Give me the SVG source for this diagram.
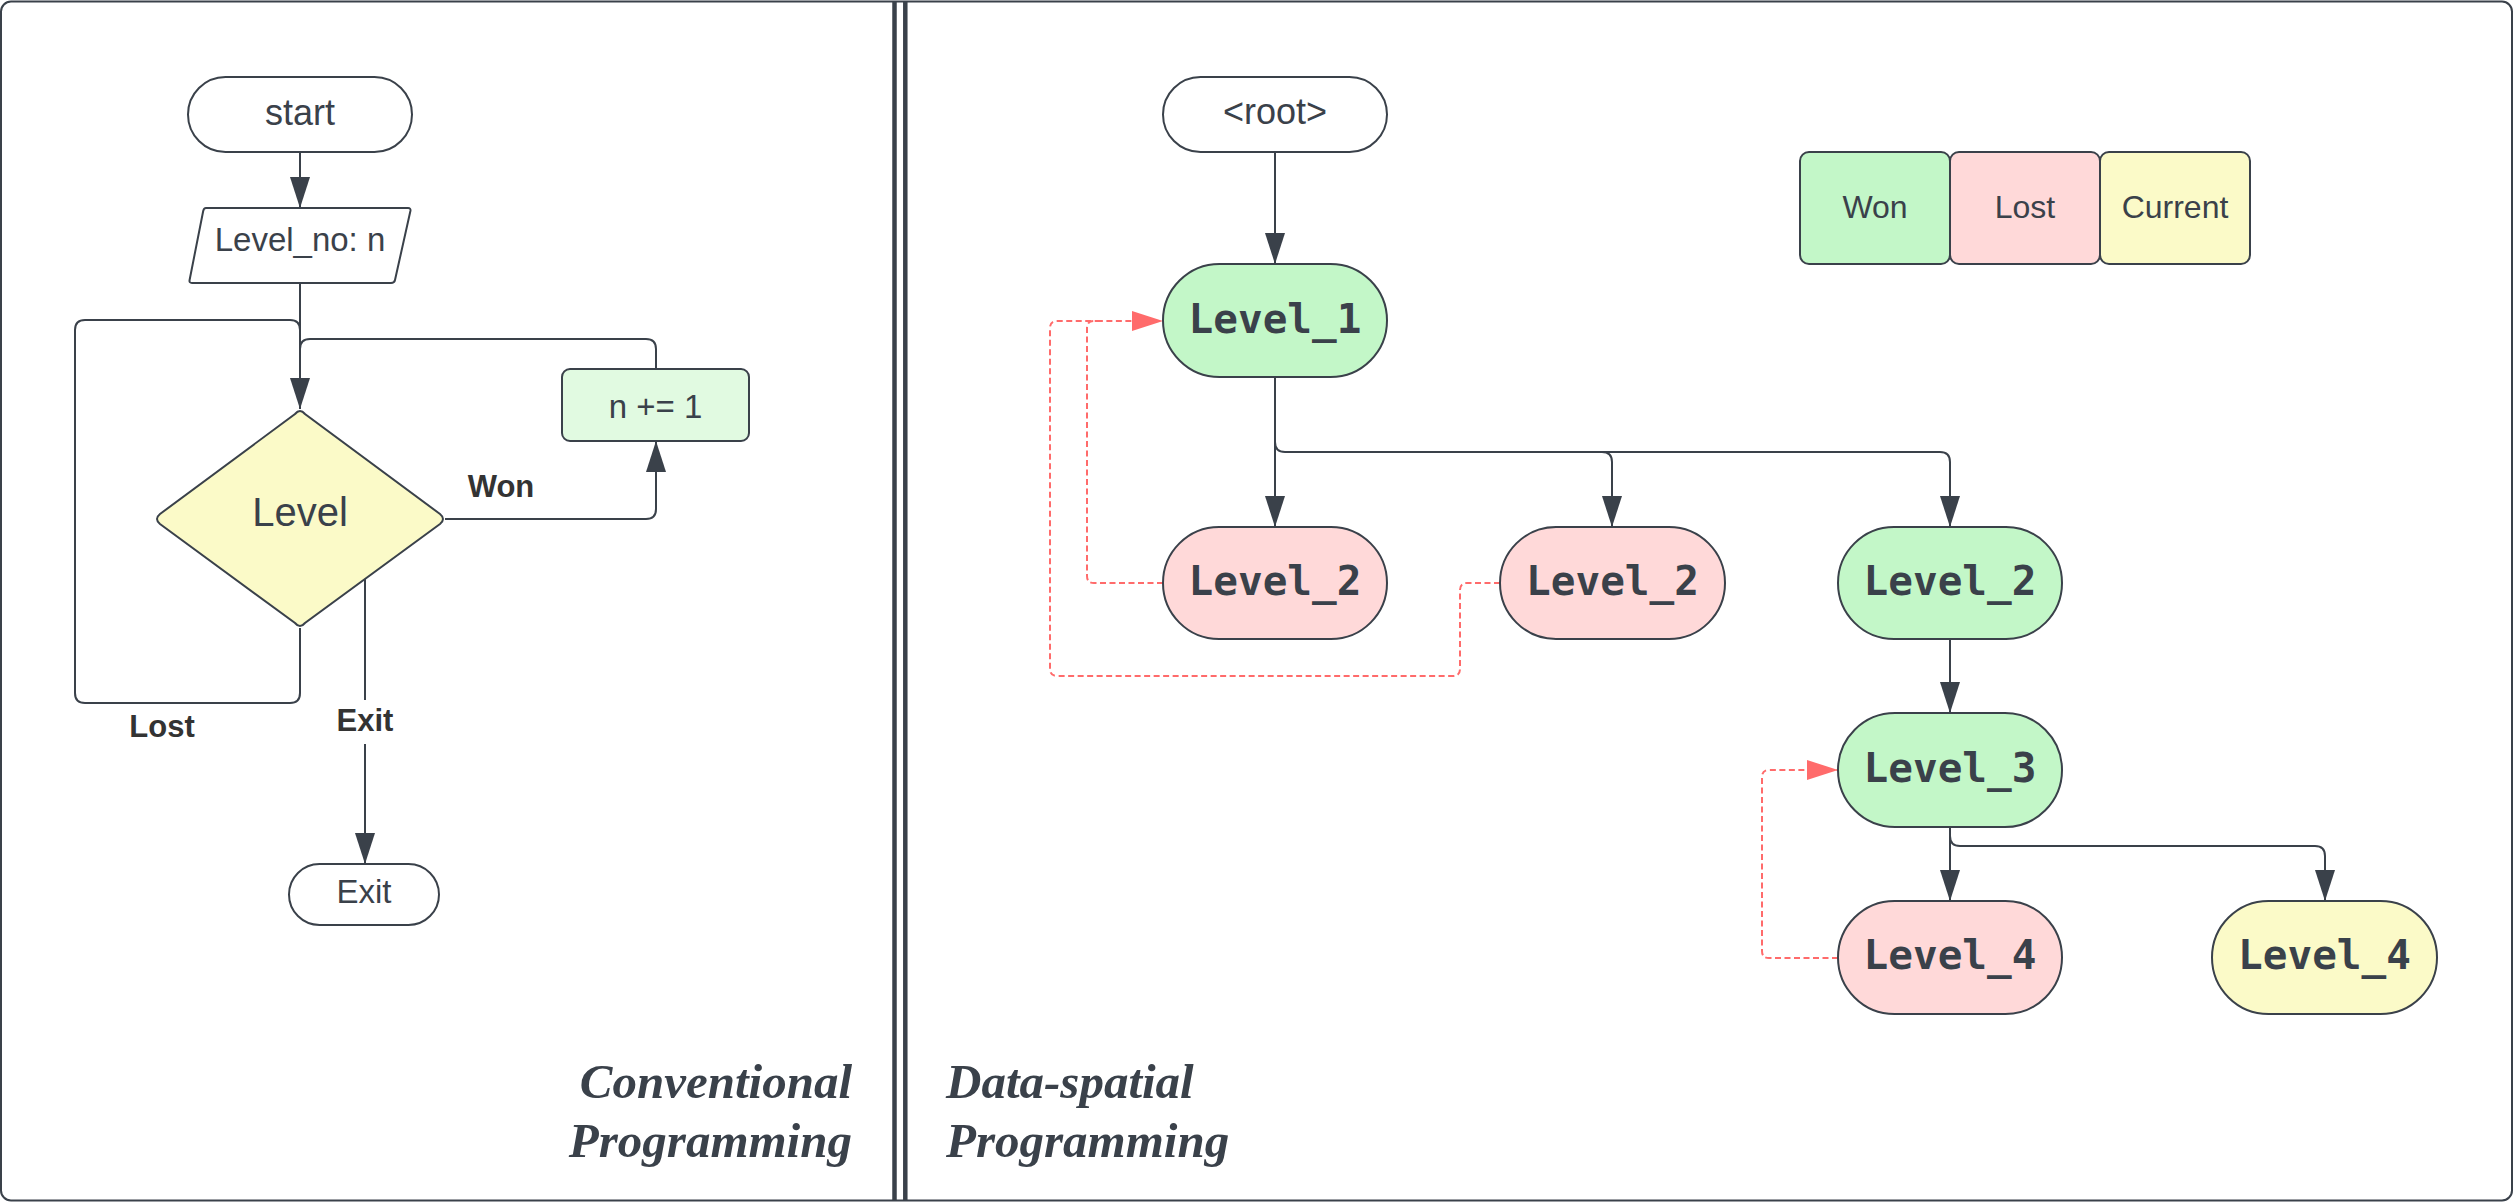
<svg xmlns="http://www.w3.org/2000/svg" width="2514" height="1202" viewBox="0 0 2514 1202">
<style>
.frame{fill:#ffffff;stroke:#3a414a;stroke-width:2}
.div{stroke:#3a414a;stroke-width:4.5}
.node{stroke:#3a414a;stroke-width:2}
.white{fill:#ffffff}
.green{fill:#c3f7c8}
.pink{fill:#ffd9d9}
.yellow{fill:#fbfac8}
.lgreen{fill:#e1fae1}
.t{font-family:"Liberation Sans",Arial,sans-serif;fill:#3a414a;text-anchor:middle}
.lbl{font-family:"Liberation Sans",Arial,sans-serif;font-weight:bold;fill:#333333;text-anchor:middle;font-size:31px}
.mono{font-family:"DejaVu Sans Mono","Liberation Mono",monospace;font-weight:bold;font-size:41px;fill:#3a414a;text-anchor:middle}
.title{font-family:"Liberation Serif","Times New Roman",serif;font-style:italic;font-weight:bold;font-size:49px;fill:#3a414a}
.edge{fill:none;stroke:#3a414a;stroke-width:2}
.dash{fill:none;stroke:#ff6b6b;stroke-width:2;stroke-dasharray:6 3.5}
</style>
<defs>
<marker id="arr" markerUnits="userSpaceOnUse" markerWidth="32" markerHeight="22" refX="31" refY="10" orient="auto">
<path d="M0,0 L31,10 L0,20 Z" fill="#3a414a"/>
</marker>
<marker id="arrRed" markerUnits="userSpaceOnUse" markerWidth="32" markerHeight="22" refX="31" refY="10" orient="auto">
<path d="M0,0 L31,10 L0,20 Z" fill="#ff6b6b"/>
</marker>
</defs>

<g id="frame">
<rect class="frame" x="1" y="1.5" width="2511" height="1199" rx="10"/>
<line class="div" x1="894.5" y1="1" x2="894.5" y2="1201"/>
<line class="div" x1="905.3" y1="1" x2="905.3" y2="1201"/>
</g>

<g id="connectors">
<path class="edge" d="M300,152 V208" marker-end="url(#arr)"/>
<path class="edge" d="M300,283 V409" marker-end="url(#arr)"/>
<path class="edge" d="M300,628 V693 Q300,703 290,703 H85 Q75,703 75,693 V330 Q75,320 85,320 H290 Q300,320 300,330"/>
<path class="edge" d="M445,519 H646 Q656,519 656,509 V441" marker-end="url(#arr)"/>
<path class="edge" d="M656,369 V349 Q656,339 646,339 H310 Q300,339 300,349"/>
<path class="edge" d="M365,579 V700"/>
<path class="edge" d="M365,744 V864" marker-end="url(#arr)"/>

<path class="edge" d="M1275,152 V264" marker-end="url(#arr)"/>
<path class="edge" d="M1275,377 V527" marker-end="url(#arr)"/>
<path class="edge" d="M1275,442 Q1275,452 1285,452 H1602 Q1612,452 1612,462 V527" marker-end="url(#arr)"/>
<path class="edge" d="M1602,452 H1940 Q1950,452 1950,462 V527" marker-end="url(#arr)"/>
<path class="edge" d="M1950,640 V713" marker-end="url(#arr)"/>
<path class="edge" d="M1950,827 V901" marker-end="url(#arr)"/>
<path class="edge" d="M1950,836 Q1950,846 1960,846 H2315 Q2325,846 2325,856 V901" marker-end="url(#arr)"/>

<path class="dash" d="M1163,583 H1094 Q1087,583 1087,576 V328 Q1087,321 1094,321 H1163" marker-end="url(#arrRed)"/>
<path class="dash" d="M1500,583 H1467 Q1460,583 1460,590 V669 Q1460,676 1453,676 H1057 Q1050,676 1050,669 V328 Q1050,321 1057,321 H1100"/>
<path class="dash" d="M1838,958 H1769 Q1762,958 1762,951 V777 Q1762,770 1769,770 H1838" marker-end="url(#arrRed)"/>

<text class="lbl" x="501" y="497" font-size="30">Won</text>
<text class="lbl" x="162" y="737">Lost</text>
<text class="lbl" x="365" y="731">Exit</text>
</g>

<g id="start">
<rect class="node white" x="188" y="77" width="224" height="75" rx="37.5"/>
<text class="t" x="300" y="125" font-size="36">start</text>
</g>
<g id="input">
<path class="node white" stroke-linejoin="round" d="M206,208 H408 Q411,208 410.4,211 L395,280 Q394.4,283 391,283 H192 Q189,283 189.6,280 L203.2,211 Q203.8,208 206,208 Z"/>
<text class="t" x="300" y="251" font-size="33">Level_no: n</text>
</g>
<g id="decision">
<path class="node yellow" d="M295,414 Q300,408 305,414 L440,514 Q446,519 440,524 L305,623 Q300,629 295,623 L160,524 Q154,519 160,514 Z"/>
<text class="t" x="300" y="526" font-size="40">Level</text>
</g>
<g id="increment">
<rect class="node lgreen" x="562" y="369" width="187" height="72" rx="8"/>
<text class="t" x="655.5" y="418" font-size="33">n += 1</text>
</g>
<g id="exit">
<rect class="node white" x="289" y="864" width="150" height="61" rx="30.5"/>
<text class="t" x="364" y="903" font-size="33">Exit</text>
</g>

<g id="root">
<rect class="node white" x="1163" y="77" width="224" height="75" rx="37.5"/>
<text class="t" x="1275" y="124" font-size="36">&lt;root&gt;</text>
</g>
<g id="level1">
<rect class="node green" x="1163" y="264" width="224" height="113" rx="56.5"/>
<text class="mono" x="1275" y="333">Level_1</text>
</g>
<g id="level2a">
<rect class="node pink" x="1163" y="527" width="224" height="112" rx="56"/>
<text class="mono" x="1275" y="595">Level_2</text>
</g>
<g id="level2b">
<rect class="node pink" x="1500" y="527" width="225" height="112" rx="56"/>
<text class="mono" x="1612.5" y="595">Level_2</text>
</g>
<g id="level2c">
<rect class="node green" x="1838" y="527" width="224" height="112" rx="56"/>
<text class="mono" x="1950" y="595">Level_2</text>
</g>
<g id="level3">
<rect class="node green" x="1838" y="713" width="224" height="114" rx="57"/>
<text class="mono" x="1950" y="782">Level_3</text>
</g>
<g id="level4a">
<rect class="node pink" x="1838" y="901" width="224" height="113" rx="56.5"/>
<text class="mono" x="1950" y="969">Level_4</text>
</g>
<g id="level4b">
<rect class="node yellow" x="2212" y="901" width="225" height="113" rx="56.5"/>
<text class="mono" x="2324.5" y="969">Level_4</text>
</g>

<g id="legend-won">
<rect class="node green" x="1800" y="152" width="150" height="112" rx="9"/>
<text class="t" x="1875" y="218" font-size="32">Won</text>
</g>
<g id="legend-lost">
<rect class="node pink" x="1950" y="152" width="150" height="112" rx="9"/>
<text class="t" x="2025" y="218" font-size="32">Lost</text>
</g>
<g id="legend-current">
<rect class="node yellow" x="2100" y="152" width="150" height="112" rx="9"/>
<text class="t" x="2175" y="218" font-size="32">Current</text>
</g>

<g id="titles">
<text class="title" x="852" y="1098" text-anchor="end">Conventional</text>
<text class="title" x="852" y="1157" text-anchor="end">Programming</text>
<text class="title" x="946" y="1098">Data-spatial</text>
<text class="title" x="946" y="1157">Programming</text>
</g>
</svg>
